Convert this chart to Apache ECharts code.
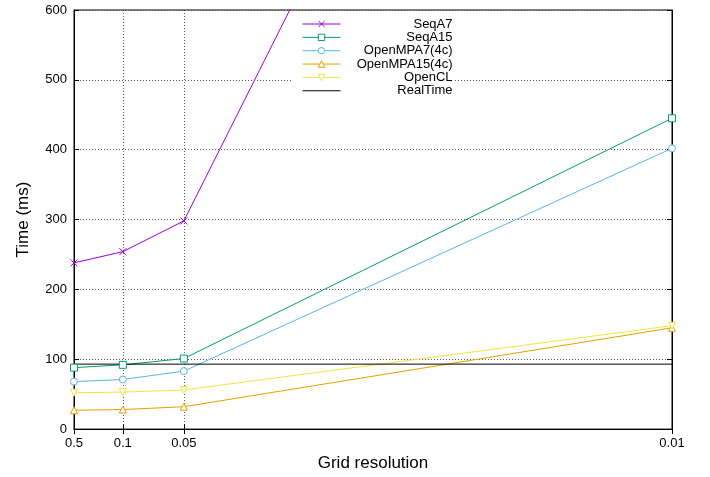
<!DOCTYPE html>
<html>
<head>
<meta charset="utf-8">
<script src="https://cdn.jsdelivr.net/npm/echarts@6/dist/echarts.min.js"></script>
<style>
html, body {margin: 0; padding: 0; background: #fff;}
#main {width: 710px; height: 477px;}
</style>
</head>
<body>
<div id="main"></div>
<script>
// grid resolutions, x axis is placed at 1/resolution
var resolutions = [0.5, 0.1, 0.05, 0.01];
var resLabels = ['0.5', '0.1', '0.05', '0.01'];

// times in ms
var seqA7 = [238, 254, 298, 1690];
var seqA15 = [88, 92, 101, 445];
var openMPA7 = [68, 71, 83, 402];
var openMPA15 = [27, 28, 32, 145];
var openCL = [52, 53, 56, 148];
var realTime = 93;

var FONT = 'Liberation Sans';

var xPos = resolutions.map(function (r) { return Math.round(1 / r); });
var xLabelMap = {};
xPos.forEach(function (p, i) { xLabelMap[p] = resLabels[i]; });

function pairs(vals) {
    return vals.map(function (v, i) { return [xPos[i], v]; });
}

// open symbols: white fill, coloured 1px outline
function makeSeries(name, vals, color, symbol) {
    return {
        name: name,
        type: 'line',
        data: pairs(vals),
        symbol: symbol,
        symbolSize: 7,
        showAllSymbol: true,
        lineStyle: {color: color, width: 1},
        itemStyle: {color: '#fff', borderColor: color, borderWidth: 1},
        emphasis: {disabled: true}
    };
}

var myChart = echarts.init(document.getElementById('main'), null, {renderer: 'canvas'});

var option = {
    animation: false,
    backgroundColor: '#fff',
    textStyle: {fontFamily: FONT},
    grid: {left: 74, right: 38, top: 10, bottom: 43, show: true, borderColor: '#000', borderWidth: 1},
    legend: {
        orient: 'vertical',
        left: 292,
        top: 11,
        padding: [6.5, 1, 1, 10],
        backgroundColor: '#fff',
        itemWidth: 38,
        itemHeight: 8,
        itemGap: 0.35,
        lineStyle: {width: 1},
        itemStyle: {borderWidth: 1},
        data: ['SeqA7', 'SeqA15', 'OpenMPA7(4c)', 'OpenMPA15(4c)', 'OpenCL',
            {name: 'RealTime', itemStyle: {opacity: 0}}],
        formatter: function (name) { return '{r|' + name + '}'; },
        textStyle: {
            fontFamily: FONT, fontSize: 13, color: '#000',
            rich: {r: {width: 107, align: 'right', fontFamily: FONT, fontSize: 13, lineHeight: 13, color: '#000'}}
        }
    },
    xAxis: [{
        type: 'value',
        min: 2,
        max: 100,
        name: 'Grid resolution',
        nameLocation: 'middle',
        nameGap: 25,
        nameTextStyle: {fontFamily: FONT, fontSize: 17, color: '#000'},
        axisLine: {show: true, lineStyle: {color: '#000', width: 1}},
        axisTick: {show: true, inside: true, length: 5, customValues: xPos, lineStyle: {color: '#000'}},
        axisLabel: {
            customValues: xPos,
            margin: 8,
            fontFamily: FONT, fontSize: 13, color: '#000',
            formatter: function (v) { return xLabelMap[v] || ''; }
        },
        splitLine: {show: true, lineStyle: {color: '#555', type: [1, 2], width: 1}}
    }, {
        type: 'value',
        position: 'top',
        min: 2,
        max: 100,
        axisLine: {show: true, lineStyle: {color: '#000'}},
        axisTick: {show: true, inside: true, length: 5, customValues: xPos, lineStyle: {color: '#000'}},
        axisLabel: {show: false},
        splitLine: {show: false}
    }],
    yAxis: [{
        type: 'value',
        min: 0,
        max: 600,
        interval: 100,
        name: 'Time (ms)',
        nameLocation: 'middle',
        nameGap: 42,
        nameTextStyle: {fontFamily: FONT, fontSize: 17, color: '#000'},
        axisLine: {show: true, lineStyle: {color: '#000', width: 1}},
        axisTick: {show: true, inside: true, length: 5, lineStyle: {color: '#000'}},
        axisLabel: {margin: 7, fontFamily: FONT, fontSize: 13, color: '#000'},
        splitLine: {show: true, lineStyle: {color: '#555', type: [1, 2], width: 1}}
    }, {
        type: 'value',
        position: 'right',
        min: 0,
        max: 600,
        interval: 100,
        axisLine: {show: true, lineStyle: {color: '#000'}},
        axisTick: {show: true, inside: true, length: 5, lineStyle: {color: '#000'}},
        axisLabel: {show: false},
        splitLine: {show: false}
    }],
    series: [
        makeSeries('SeqA7', seqA7, '#9400d3', 'path://M0,0L10,10M10,0L0,10'),
        makeSeries('SeqA15', seqA15, '#009e73', 'rect'),
        makeSeries('OpenMPA7(4c)', openMPA7, '#56b4e9', 'circle'),
        makeSeries('OpenMPA15(4c)', openMPA15, '#e69f00', 'triangle'),
        makeSeries('OpenCL', openCL, '#f0e442', 'path://M0,0L10,0L5,9Z'),
        {
            name: 'RealTime',
            type: 'line',
            data: [[xPos[0], realTime], [xPos[xPos.length - 1], realTime]],
            symbol: 'none',
            lineStyle: {color: '#000', width: 1},
            itemStyle: {color: '#000'},
            emphasis: {disabled: true}
        }
    ]
};

myChart.setOption(option);
</script>
</body>
</html>
